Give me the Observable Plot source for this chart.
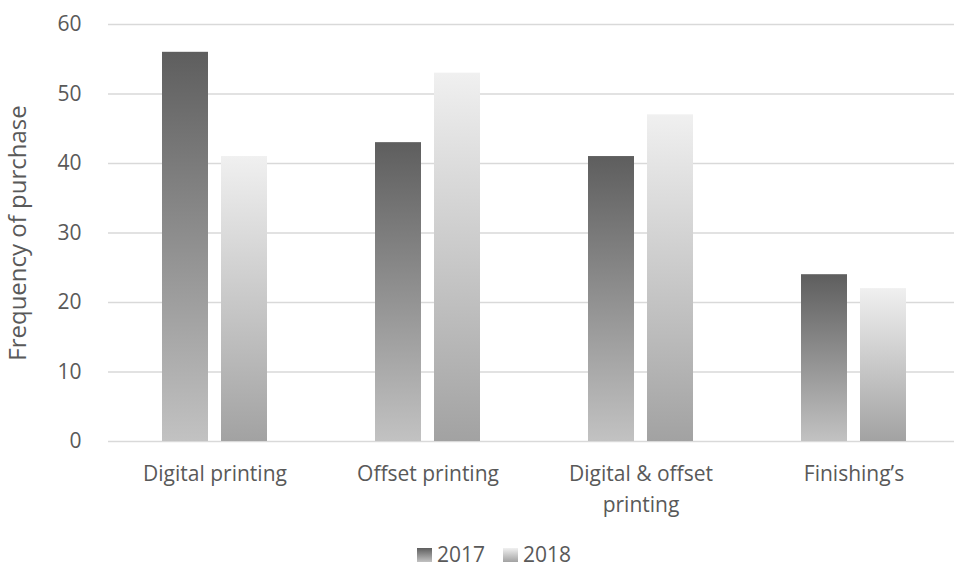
<!DOCTYPE html>
<html><head><meta charset="utf-8">
<script src="https://cdn.jsdelivr.net/npm/d3@7"></script>
<script src="https://cdn.jsdelivr.net/npm/@observablehq/plot@0.6"></script>
<style>
body{margin:0;background:#fff;font-family:"Open Sans",sans-serif;}
#chart{width:954px;height:570px;position:relative;overflow:hidden;}
#chart svg{display:block;}
.legend{position:absolute;left:0;right:0;top:540px;display:flex;justify-content:center;align-items:center;line-height:normal;color:#595959;font-size:21px;padding-left:34px;}
.legend .item{display:flex;align-items:center;margin:0 9px;}
.legend .sw{width:15px;height:14px;margin-right:5px;margin-top:2px;}
</style></head><body><div id="chart"></div>
<script>
const categories = ["Digital printing", "Offset printing", "Digital & offset printing", "Finishing’s"];
const tickLabels = ["Digital printing", "Offset printing", "Digital & offset\nprinting", "Finishing’s"];
const years = ["2017", "2018"];
const values2017 = [56, 43, 41, 24];
const values2018 = [41, 53, 47, 22];
const yTicks = [0, 10, 20, 30, 40, 50, 60];
const gradTop = ["#5e5e5e", "#f0f0f0"];
const gradBottom = ["#c2c2c2", "#a2a2a2"];

const data = categories.flatMap((c, i) => [
  {category: c, year: years[0], value: values2017[i]},
  {category: c, year: years[1], value: values2018[i]}
]);

const plot = Plot.plot({
  width: 954, height: 530,
  marginLeft: 108, marginRight: 0, marginTop: 24, marginBottom: 89,
  style: {fontFamily: "Open Sans", fontSize: "21px", color: "#595959", background: "#fff"},
  fx: {domain: categories, range: [106, 961], padding: 0},
  x: {domain: years, paddingInner: 0.2167, paddingOuter: 0.8896, axis: null},
  y: {domain: [0, 60]},
  color: {domain: years, range: years.map(y => `url(#grad${y})`)},
  marks: [
    Plot.ruleY(yTicks, {stroke: "#d9d9d9", strokeWidth: 1.6}),
    Plot.barY(data, {fx: "category", x: "year", y: "value", fill: "year"}),
    Plot.axisY({ticks: yTicks, tickSize: 0, tickPadding: 27, label: null, fontSize: 21}),
    Plot.axisY({ticks: [], label: "Frequency of purchase", labelAnchor: "center", labelArrow: "none", labelOffset: 100, fontSize: 24}),
    Plot.axisFx({anchor: "bottom", tickSize: 0, tickPadding: 17, label: null, lineHeight: 1.48, fontSize: 21,
      tickFormat: d => tickLabels[categories.indexOf(d)]})
  ]
});

const defs = d3.select(plot).insert("defs", ":first-child");
years.forEach((y, i) => {
  const g = defs.append("linearGradient").attr("id", `grad${y}`).attr("x1", 0).attr("y1", 0).attr("x2", 0).attr("y2", 1);
  g.append("stop").attr("offset", "0%").attr("stop-color", gradTop[i]);
  g.append("stop").attr("offset", "100%").attr("stop-color", gradBottom[i]);
});

const chart = document.getElementById("chart");
chart.appendChild(plot);
const legend = document.createElement("div");
legend.className = "legend";
years.forEach((y, i) => {
  const item = document.createElement("div");
  item.className = "item";
  const sw = document.createElement("span");
  sw.className = "sw";
  sw.style.background = `linear-gradient(${gradTop[i]}, ${gradBottom[i]})`;
  const t = document.createElement("span");
  t.textContent = y;
  item.appendChild(sw); item.appendChild(t);
  legend.appendChild(item);
});
chart.appendChild(legend);
</script></body></html>
